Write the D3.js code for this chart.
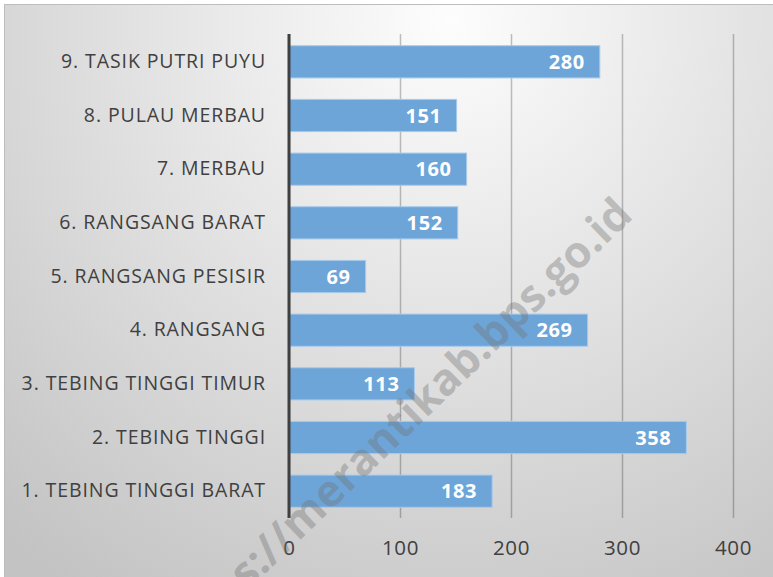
<!DOCTYPE html>
<html>
<head>
<meta charset="utf-8">
<script src="https://cdn.jsdelivr.net/npm/d3@7/dist/d3.min.js"></script>
<style>
  html, body { margin: 0; padding: 0; background: #ffffff; }
  svg { display: block; }
</style>
</head>
<body>
<script>
const categories = [
  "1. TEBING TINGGI BARAT",
  "2. TEBING TINGGI",
  "3. TEBING TINGGI TIMUR",
  "4. RANGSANG",
  "5. RANGSANG PESISIR",
  "6. RANGSANG BARAT",
  "7. MERBAU",
  "8. PULAU MERBAU",
  "9. TASIK PUTRI PUYU"
];
const values = [183, 358, 113, 269, 69, 152, 160, 151, 280];
const tickValues = [0, 100, 200, 300, 400];
const watermark = "https://merantikab.bps.go.id";

const W = 773, H = 577;
const svg = d3.select("body").append("svg").attr("width", W).attr("height", H);

const defs = svg.append("defs");
const grad = defs.append("radialGradient")
  .attr("id", "bg").attr("gradientUnits", "userSpaceOnUse")
  .attr("cx", 450).attr("cy", 20).attr("r", 680);
grad.append("stop").attr("offset", "0%").attr("stop-color", "#fdfdfd");
grad.append("stop").attr("offset", "100%").attr("stop-color", "#c3c3c3");

// chart area background + frame
svg.append("rect").attr("x", 4.5).attr("y", 4.5).attr("width", W + 10).attr("height", H + 10)
  .attr("fill", "url(#bg)").attr("stroke", "#bdbdbd").attr("stroke-width", 1);

const x = d3.scaleLinear().domain([0, 400]).range([289, 733]);
const y = d3.scaleBand().domain(categories.slice().reverse()).range([35, 518])
  .paddingInner(0.4).paddingOuter(0.2);

const font = "'Open Sans', sans-serif";

// gridlines
const grid = svg.append("g")
  .attr("transform", "translate(0,518)")
  .call(d3.axisBottom(x).tickValues(tickValues).tickSize(-(518 - 34)).tickFormat(""));
grid.select(".domain").remove();
grid.selectAll("line").attr("stroke", "rgba(0,0,0,0.24)").attr("stroke-width", 1.5);

// bars
svg.append("g").selectAll("rect").data(values).join("rect")
  .attr("x", x(0))
  .attr("y", (d, i) => y(categories[i]))
  .attr("width", d => x(d) - x(0))
  .attr("height", y.bandwidth())
  .attr("fill", "#6da5d9")
  .attr("stroke", "#a8caea")
  .attr("stroke-width", 1);

// zero axis line
svg.append("line").attr("x1", x(0)).attr("x2", x(0)).attr("y1", 34).attr("y2", 518)
  .attr("stroke", "#404040").attr("stroke-width", 3);

// value labels
svg.append("g").selectAll("text").data(values).join("text")
  .attr("x", d => x(d) - 15)
  .attr("y", (d, i) => y(categories[i]) + y.bandwidth() / 2)
  .attr("dy", "0.36em")
  .attr("text-anchor", "end")
  .attr("font-family", font).attr("font-weight", "bold").attr("font-size", 20)
  .attr("letter-spacing", 0.6)
  .attr("fill", "#ffffff")
  .text(d => d);

// category labels (y axis)
const yAxis = svg.append("g").attr("transform", `translate(${x(0)},0)`)
  .call(d3.axisLeft(y).tickSize(0).tickPadding(23));
yAxis.select(".domain").remove();
yAxis.selectAll("text")
  .attr("font-family", font).attr("font-size", 19.5).attr("letter-spacing", 0.9)
  .attr("fill", "#404040");

// x tick labels
const xAxis = svg.append("g").attr("transform", "translate(0,518)")
  .call(d3.axisBottom(x).tickValues(tickValues).tickSize(0).tickPadding(22));
xAxis.select(".domain").remove();
xAxis.selectAll("text")
  .attr("font-family", font).attr("font-size", 20.5).attr("letter-spacing", 0.6)
  .attr("fill", "#404040");

// watermark
svg.append("text")
  .attr("transform", "translate(396,426) rotate(-44)")
  .attr("text-anchor", "middle")
  .attr("dy", "0.35em")
  .attr("font-family", "'Open Sans', sans-serif").attr("font-weight", "bold").attr("font-size", 44)
  .attr("fill", "rgba(115,115,115,0.38)")
  .text(watermark);
</script>
</body>
</html>
